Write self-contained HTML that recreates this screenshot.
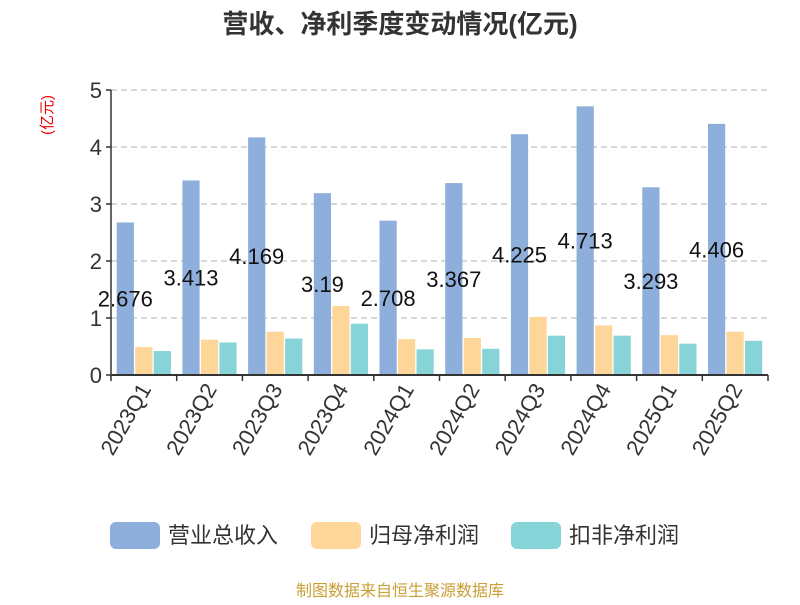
<!DOCTYPE html>
<html><head><meta charset="utf-8"><style>
body{margin:0;background:#fff}
svg text{font-family:"Liberation Sans","Noto Sans CJK SC",sans-serif}
</style></head><body>
<svg id="c" width="800" height="600">
<text x="400" y="33" text-anchor="middle" font-size="26" font-weight="bold" fill="#333">营收、净利季度变动情况(亿元)</text>
<text transform="translate(52,115) rotate(-90)" text-anchor="middle" font-size="15" fill="#e00">(亿元)</text>
<g id="grid"></g><g id="bars"></g><g id="axes"></g>
<g>
<rect x="110" y="522" width="50" height="27" rx="6" fill="#8eaedb"/>
<text x="168" y="543" font-size="22" fill="#333">营业总收入</text>
<rect x="311" y="522" width="50" height="27" rx="6" fill="#ffd699"/>
<text x="369" y="543" font-size="22" fill="#333">归母净利润</text>
<rect x="511" y="522" width="50" height="27" rx="6" fill="#86d4d8"/>
<text x="569" y="543" font-size="22" fill="#333">扣非净利润</text>
</g>
<text x="400" y="596" text-anchor="middle" font-size="16" fill="#c9a035">制图数据来自恒生聚源数据库</text>
</svg>
<script>
const categories=["2023Q1","2023Q2","2023Q3","2023Q4","2024Q1","2024Q2","2024Q3","2024Q4","2025Q1","2025Q2"];
const revenue=[2.676,3.413,4.169,3.19,2.708,3.367,4.225,4.713,3.293,4.406];
const netProfit=[0.49,0.62,0.76,1.21,0.63,0.65,1.02,0.87,0.70,0.76];
const deductedProfit=[0.42,0.57,0.64,0.90,0.45,0.46,0.69,0.69,0.55,0.60];
const yTicks=[0,1,2,3,4,5];
const NS="http://www.w3.org/2000/svg";
const X0=111,X1=768,Y0=375,Y1=90,YMAX=5;
const gw=(X1-X0)/categories.length;
function y(v){return Y0-(v/YMAX)*(Y0-Y1);}
function mk(tag,attrs,parent){const e=document.createElementNS(NS,tag);for(const k in attrs)e.setAttribute(k,attrs[k]);parent.appendChild(e);return e;}
const grid=document.getElementById('grid'),bars=document.getElementById('bars'),axes=document.getElementById('axes');
yTicks.forEach(t=>{
  if(t>0){const l=mk('line',{x1:X0,x2:X1,y1:y(t),y2:y(t),stroke:'#ccc','stroke-dasharray':'6,4','stroke-width':1.5},grid);
  
  }
  const tk=mk('line',{x1:X0-5,x2:X0,y1:y(t),y2:y(t),stroke:'#333','stroke-width':1.5},axes);
  
  
  const tx=mk('text',{x:X0-9,y:y(t)+8,'text-anchor':'end','font-size':22,fill:'#333'},axes);tx.textContent=t;
  
  
});
const series=[[revenue,'#8eaedb','revenue'],[netProfit,'#ffd699','net-profit'],[deductedProfit,'#86d4d8','deducted-profit']];
const bw=17.2,gap=1.3,off=5.7;
categories.forEach((c,i)=>{
  const gx=X0+i*gw;
  series.forEach((s,j)=>{
    const v=s[0][i];const bx=gx+off+j*(bw+gap);
    const r=mk('rect',{x:bx,y:y(v),width:bw,height:Y0-y(v),fill:s[1]},bars);
    
    
  });
  const lb=mk('text',{x:gx+off+bw/2,y:(y(revenue[i])+Y0)/2+8,'text-anchor':'middle','font-size':22,fill:'#111'},bars);
  lb.textContent=String(revenue[i]);
  
  
  const tk=mk('line',{x1:gx,x2:gx,y1:Y0,y2:Y0+6,stroke:'#333','stroke-width':1.5},axes);
  
  
  const cx=gx+gw/2;
  const tl=mk('text',{x:cx+8,y:Y0+14,'text-anchor':'end','font-size':22,fill:'#333',transform:`rotate(-60 ${cx+8} ${Y0+14})`},axes);
  tl.textContent=c;
  
  
});
const lt=mk('line',{x1:X1,x2:X1,y1:Y0,y2:Y0+6,stroke:'#333','stroke-width':1.5},axes);


const ya=mk('line',{x1:X0,x2:X0,y1:Y1,y2:Y0,stroke:'#333','stroke-width':1.5},axes);


const xa=mk('line',{x1:X0,x2:X1,y1:Y0,y2:Y0,stroke:'#333','stroke-width':2},axes);


</script>
</body></html>
